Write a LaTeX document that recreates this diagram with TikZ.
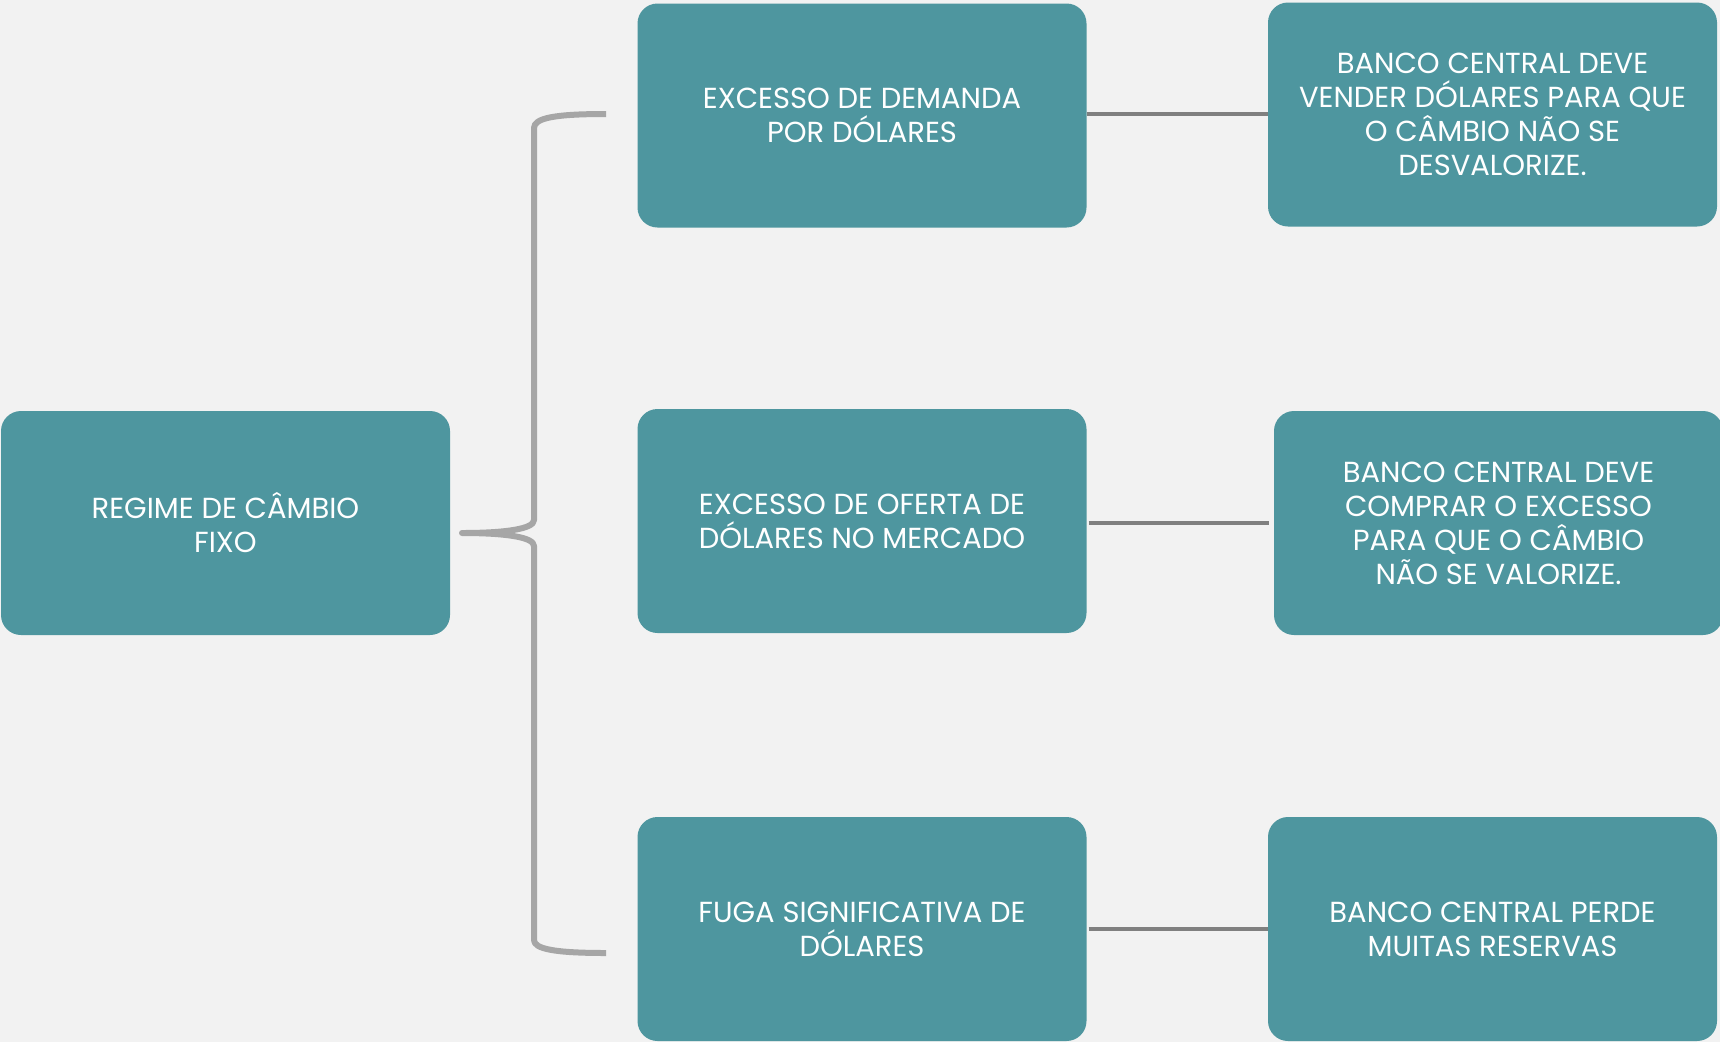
\documentclass[tikz,border=0pt]{standalone}
\usepackage{fontspec}
\setmainfont{Poppins}
\definecolor{bg}{HTML}{F2F2F2}
\definecolor{teal}{HTML}{4E969F}
\definecolor{brace}{HTML}{A6A6A6}
\definecolor{conn}{HTML}{808080}
\begin{document}
\begin{tikzpicture}[x=1pt,y=-1pt,
  box/.style={fill=teal, rounded corners=20pt, minimum width=449pt, minimum height=224pt,
    inner sep=0pt, text=white, align=center, font=\fontsize{29}{34}\selectfont},
  link/.style={draw=conn, line width=4pt},
  bracestyle/.style={draw=brace, line width=6pt, line join=round}]
\clip (0,0) rectangle (1720,1042);
\fill[bg] (0,0) rectangle (1720,1042);
\node[box] (regime) at (225.5,523) {REGIME DE CÂMBIO\\FIXO};
\node[box] (demanda) at (862,115.5) {EXCESSO DE DEMANDA\\POR DÓLARES};
\node[box] (oferta) at (862,521) {EXCESSO DE OFERTA DE\\DÓLARES NO MERCADO};
\node[box] (fuga) at (862,929) {FUGA SIGNIFICATIVA DE\\DÓLARES};
\node[box] (vender) at (1492.5,114.5) {BANCO CENTRAL DEVE\\VENDER DÓLARES PARA QUE\\O CÂMBIO NÃO SE\\DESVALORIZE.};
\node[box] (comprar) at (1498.5,523) {BANCO CENTRAL DEVE\\COMPRAR O EXCESSO\\PARA QUE O CÂMBIO\\NÃO SE VALORIZE.};
\node[box] (perde) at (1492.5,929) {BANCO CENTRAL PERDE\\MUITAS RESERVAS};
\draw[link] (demanda.east |- 0,114) -- (vender.west |- 0,114);
\draw[link, shorten <=2pt, shorten >=5pt] (oferta.east |- 0,523) -- (comprar.west |- 0,523);
\draw[link, shorten <=2pt] (fuga.east |- 0,929) -- (perde.west |- 0,929);
\coordinate (tip) at (462,533);
\coordinate (btop) at (606,114);
\coordinate (bbot) at (606,953);
\path[bracestyle] (btop) .. controls (555,114) and (534,118) .. (534,128) -- (534,520)
  .. controls (534,529) and (505,533) .. (tip)
  .. controls (505,533) and (534,537) .. (534,546) -- (534,940)
  .. controls (534,949) and (555,953) .. (bbot);
\end{tikzpicture}
\end{document}
